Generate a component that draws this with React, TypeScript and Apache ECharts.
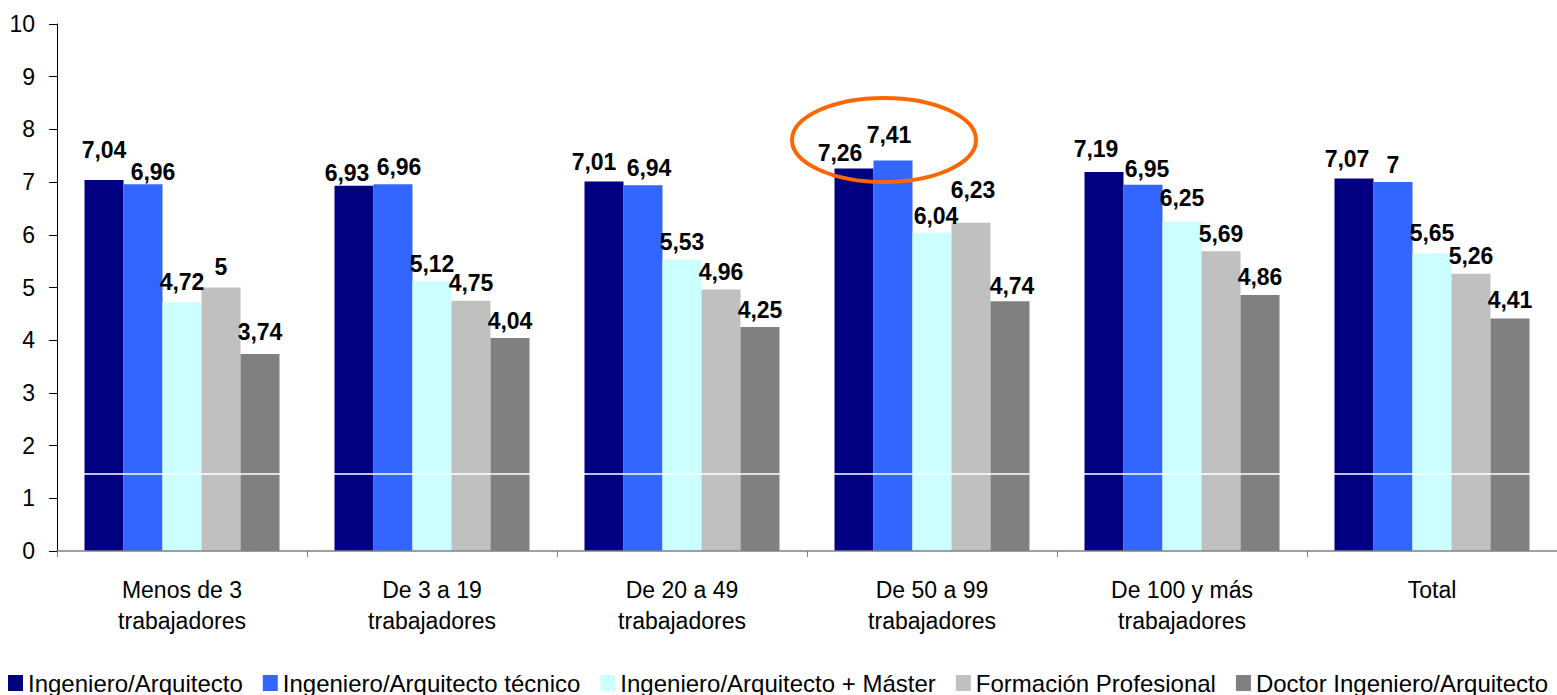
import React, { useEffect, useRef } from "react";
import * as echarts from "echarts";

const categories = [
  "Menos de 3\ntrabajadores",
  "De 3 a 19\ntrabajadores",
  "De 20 a 49\ntrabajadores",
  "De 50 a 99\ntrabajadores",
  "De 100 y más\ntrabajadores",
  "Total",
];
const seriesNames = [
  "Ingeniero/Arquitecto",
  "Ingeniero/Arquitecto técnico",
  "Ingeniero/Arquitecto + Máster",
  "Formación Profesional",
  "Doctor Ingeniero/Arquitecto",
];
const ingArq = [7.04, 6.93, 7.01, 7.26, 7.19, 7.07];
const ingTec = [6.96, 6.96, 6.94, 7.41, 6.95, 7];
const ingMaster = [4.72, 5.12, 5.53, 6.04, 6.25, 5.65];
const formProf = [5, 4.75, 4.96, 6.23, 5.69, 5.26];
const doctor = [3.74, 4.04, 4.25, 4.74, 4.86, 4.41];
const colors = ["#000080", "#3366FF", "#CCFFFF", "#C0C0C0", "#808080"];
const whiteLineValue = 1.46;

// label nudges (style only), as in the reference where adjacent labels collide
const labelNudgeX: number[][] = [
  [0, -7, -10, -14, -8, -7],
  [10, 6, 6, -4, 4, 0],
  [0, 0, 0, 4, 0, 0],
  [0, 0, 0, 2, 0, 0],
  [0, 0, 0, 2, 0, 0],
];
const labelNudgeY: number[][] = [
  [-12, 5, -2, 2, -6, -2],
  [5, 0, 0, -8, 2, 0],
  [-3, 0, 0, 1, -6, -3],
  [-3, 0, 0, -15, 0, 0],
  [-4, 0, 0, 2, 0, -1],
];

export default function App() {
  const ref = useRef<HTMLDivElement>(null);
  useEffect(() => {
    if (!ref.current) return;
    const chart = echarts.init(ref.current, null, { renderer: "svg" });
    const data = [ingArq, ingTec, ingMaster, formProf, doctor];
    const font = "'Liberation Sans', Arial, sans-serif";
    const labelBase = {
      show: true,
      position: "top",
      distance: 6,
      fontFamily: font,
      fontSize: 23,
      fontWeight: "bold",
      color: "#000",
      formatter: (p: any) => String(p.value).replace(".", ","),
    };
    const series: any[] = data.map((d, i) => ({
      name: seriesNames[i],
      type: "bar",
      data: d.map((v, j) => ({
        value: v,
        label: { offset: [labelNudgeX[i][j], labelNudgeY[i][j]] },
      })),
      barGap: "0%",
      barCategoryGap: "22%",
      itemStyle: { color: colors[i] },
      label: labelBase,
    }));
    series.push({
      name: "_line",
      type: "line",
      data: [],
      z: 3,
      markLine: {
        silent: true,
        symbol: "none",
        label: { show: false },
        lineStyle: { color: "#fff", width: 1.5, type: "solid" },
        data: [{ yAxis: whiteLineValue }],
      },
    });
    chart.setOption({
      animation: false,
      backgroundColor: "#fff",
      color: colors,
      textStyle: { fontFamily: font },
      grid: { left: 57, right: 0, top: 24, bottom: 144, containLabel: false },
      legend: {
        data: seriesNames,
        top: 671,
        left: 8,
        width: 1557,
        padding: 0,
        icon: "rect",
        itemWidth: 15,
        itemHeight: 16,
        itemGap: 20,
        textStyle: { fontFamily: font, fontSize: 24, color: "#000" },
      },
      xAxis: {
        type: "category",
        data: categories,
        z: 5,
        axisLine: { show: true, lineStyle: { color: "#808080", width: 1.5 } },
        axisTick: { show: true, alignWithLabel: false, length: 6, lineStyle: { color: "#808080" } },
        axisLabel: {
          fontFamily: font,
          fontSize: 23,
          color: "#000",
          lineHeight: 31,
          margin: 23,
          interval: 0,
        },
      },
      yAxis: {
        type: "value",
        min: 0,
        max: 10,
        interval: 1,
        z: 5,
        axisLine: { show: true, lineStyle: { color: "#000", width: 1 } },
        axisTick: { show: true, length: 8, lineStyle: { color: "#000" } },
        splitLine: { show: false },
        axisLabel: { fontFamily: font, fontSize: 23, color: "#000", margin: 22 },
      },
      series,
      graphic: [
        {
          type: "ellipse",
          shape: { cx: 884, cy: 140, rx: 92, ry: 42 },
          style: { fill: "none", stroke: "#FF6600", lineWidth: 4 },
          z: 100,
        },
      ],
    });
    return () => chart.dispose();
  }, []);
  return (
    <div
      ref={ref}
      style={{ position: "fixed", left: 0, top: 0, width: 1557, height: 695, background: "#fff" }}
    />
  );
}
